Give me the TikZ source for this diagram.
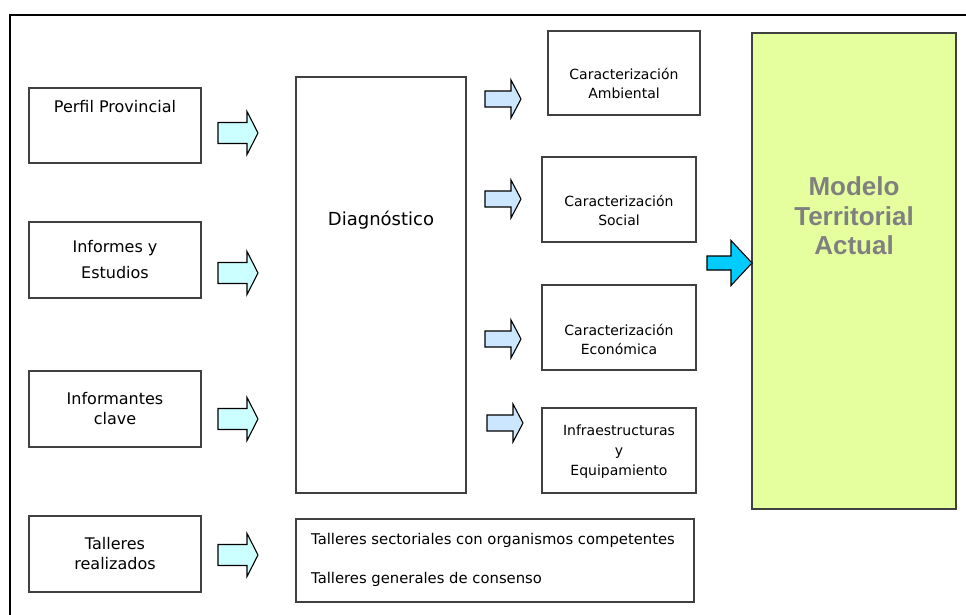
\documentclass[tikz,border=0pt]{standalone}
\usepackage{fontspec}
\setmainfont{DejaVu Sans}
\newfontfamily\arialb{Liberation Sans}
\usepackage{tikz}

\definecolor{bordegris}{HTML}{404040}
\definecolor{cianclaro}{HTML}{CCFFFF}
\definecolor{azulclaro}{HTML}{CCE6FF}
\definecolor{azulfuerte}{HTML}{00CCFF}
\definecolor{verdeclaro}{HTML}{E6FF9E}
\definecolor{grismodelo}{HTML}{808080}

\tikzset{
  caja/.style={draw=bordegris,line width=1.1pt,fill=white,inner sep=0pt,align=center},
  flechab/.style={draw=black,line width=1.1pt,line join=miter}
}

% block arrow: fill, left x, centre y, length, half shaft, half head, head length
\newcommand{\flecha}[7]{\draw[flechab,fill=#1] (#2,#3-#5) -- (#2+#4-#7,#3-#5) -- (#2+#4-#7,#3-#6) -- (#2+#4,#3) -- (#2+#4-#7,#3+#6) -- (#2+#4-#7,#3+#5) -- (#2,#3+#5) -- cycle;}

\begin{document}
\begin{tikzpicture}[x=1pt,y=-1pt]
\useasboundingbox (0,0) rectangle (966,615);
\draw[line width=1.8pt] (10.3,615) -- (10.3,15) -- (966,15);

% fuentes
\node[caja,minimum width=172,minimum height=75] (perfil) at (115,125.5) {};
\node[font=\fontsize{16}{19}\selectfont,inner sep=0pt] (tperfil) at (115,107) {Perfil Provincial};
\node[caja,minimum width=172,minimum height=76,font=\fontsize{16}{26}\selectfont] (informes) at (115,260) {Informes y\\Estudios};
\node[caja,minimum width=172,minimum height=76,font=\fontsize{16}{20}\selectfont] (informantes) at (115,409) {Informantes\\clave};
\node[caja,minimum width=172,minimum height=76,font=\fontsize{16}{20}\selectfont] (talleres) at (115,554) {Talleres\\realizados};

\foreach \y in {133,273,419,555} \flecha{cianclaro}{218}{\y}{40}{10.5}{21.5}{11};

% diagnostico
\node[caja,minimum width=170,minimum height=416] (diag) at (381,285) {};
\node[font=\fontsize{18}{20}\selectfont,inner sep=0pt] (tdiag) at (381,220) {Diagnóstico};
\node[caja,minimum width=398,minimum height=83] (lista) at (495,560.5) {};
\node[font=\fontsize{14.8}{16}\selectfont,anchor=west,inner sep=0pt] (lista1) at (311,540) {Talleres sectoriales con organismos competentes};
\node[font=\fontsize{14.8}{16}\selectfont,anchor=west,inner sep=0pt] (lista2) at (311,579) {Talleres generales de consenso};

\flecha{azulclaro}{485}{99}{36}{8}{19}{10}
\flecha{azulclaro}{485}{199}{36}{8}{19}{10}
\flecha{azulclaro}{485}{339}{36}{8}{19}{10}
\flecha{azulclaro}{487}{423}{36}{8}{19}{10}

% caracterizaciones
\node[caja,minimum width=152,minimum height=84] (ambiental) at (624,73) {};
\node[font=\fontsize{14}{19}\selectfont,align=center,inner sep=0pt] (tambiental) at (624,84) {Caracterización\\Ambiental};
\node[caja,minimum width=154,minimum height=85] (social) at (619,199.5) {};
\node[font=\fontsize{14}{19}\selectfont,align=center,inner sep=0pt] (tsocial) at (619,210) {Caracterización\\Social};
\node[caja,minimum width=154,minimum height=85] (economica) at (619,327.5) {};
\node[font=\fontsize{14}{19}\selectfont,align=center,inner sep=0pt] (teconomica) at (619,339) {Caracterización\\Económica};
\node[caja,minimum width=154,minimum height=85] (infra) at (619,450.5) {};
\node[font=\fontsize{14}{20}\selectfont,align=center,inner sep=0pt] (tinfra) at (619,452) {Infraestructuras\\y\\Equipamiento};

% modelo
\node[caja,fill=verdeclaro,minimum width=204,minimum height=476] (modelo) at (854,271) {};
\node[font=\arialb\bfseries\fontsize{26}{29.5}\selectfont,text=grismodelo,align=center,inner sep=0pt] (tmodelo) at (854,216) {Modelo\\Territorial\\Actual};
\flecha{azulfuerte}{707}{263}{45}{7}{22.5}{21}
\end{tikzpicture}
\end{document}
